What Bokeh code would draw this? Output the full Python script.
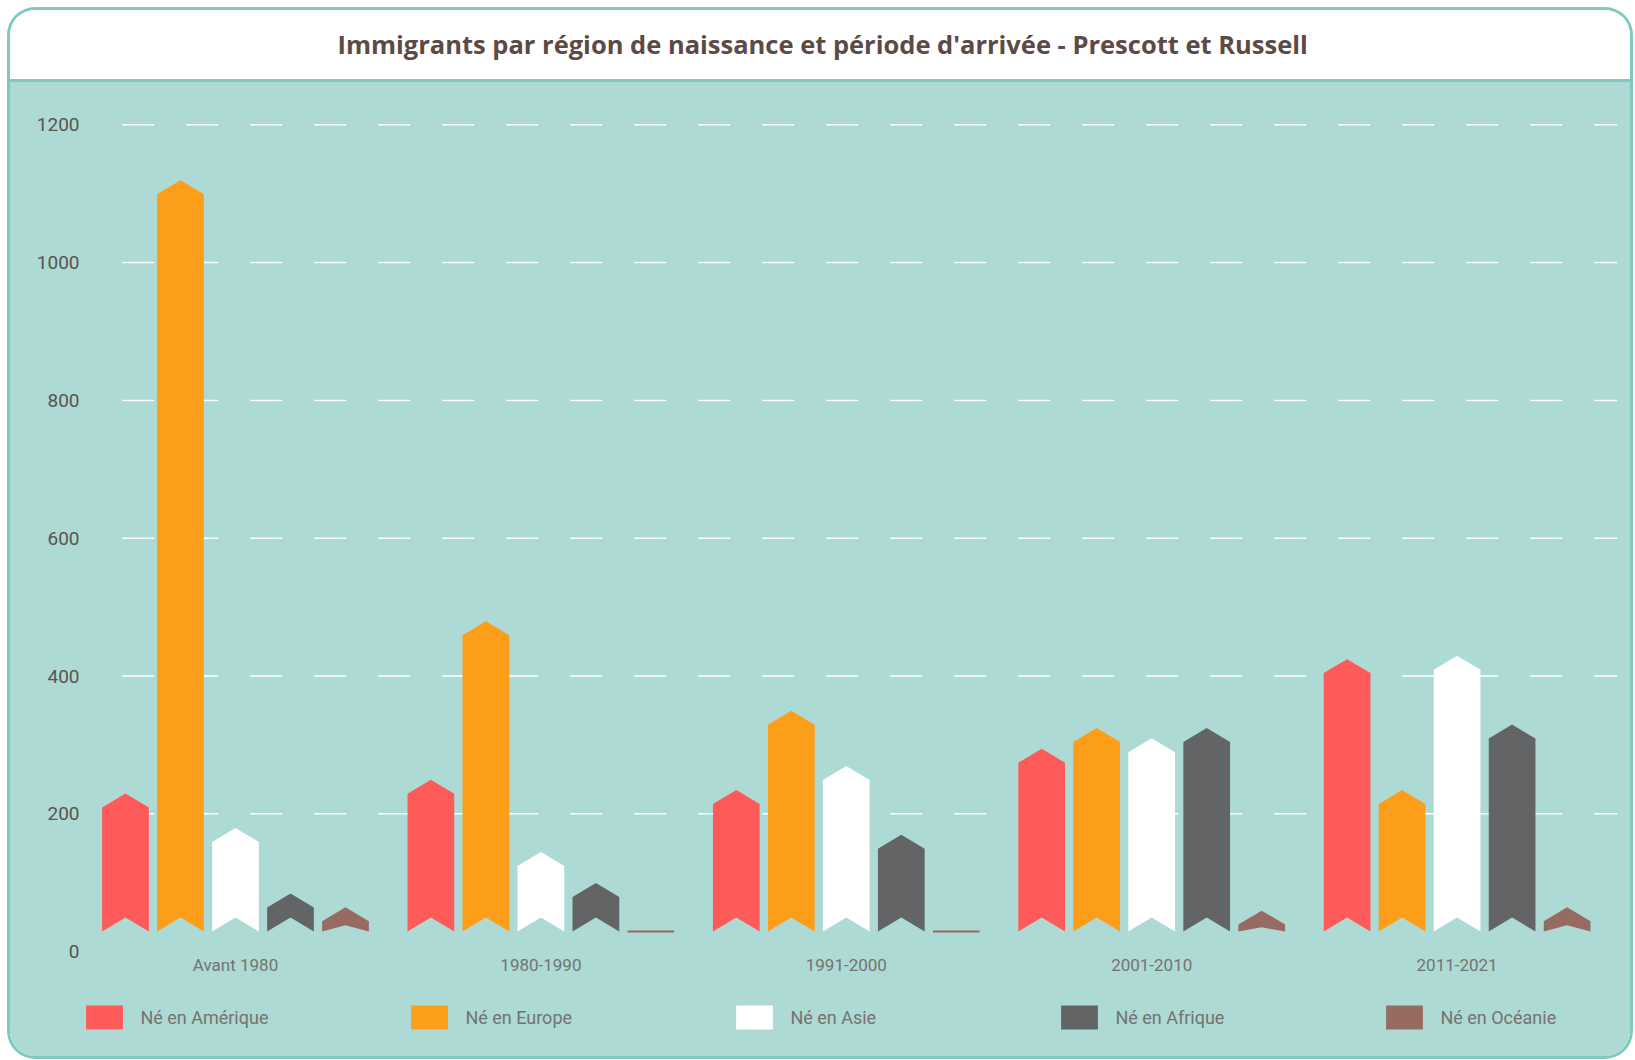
from bokeh.plotting import figure
from bokeh.models import Range1d, FixedTicker, Legend, LegendItem, ColumnDataSource
from bokeh.embed import file_html
from bokeh.resources import INLINE

# ---------------- data ----------------
periods = ["Avant 1980", "1980-1990", "1991-2000", "2001-2010", "2011-2021"]
regions = ["Né en Amérique", "Né en Europe", "Né en Asie", "Né en Afrique", "Né en Océanie"]
ne_amerique = [180, 200, 185, 245, 375]
ne_europe = [1070, 430, 300, 275, 185]
ne_asie = [130, 95, 220, 260, 380]
ne_afrique = [35, 50, 120, 275, 280]
ne_oceanie = [15, 0, 0, 10, 15]
y_ticks = [0, 200, 400, 600, 800, 1000, 1200]

series = [ne_amerique, ne_europe, ne_asie, ne_afrique, ne_oceanie]
colors = ["#ff5a5a", "#fd9e1b", "#ffffff", "#636466", "#976a62"]

# ---------------- style constants ----------------
BASE = 29.2      # ribbons start slightly above the zero line (data units)
TIP = 20.3       # height of the pointed top
NOTCH = 20.3     # depth of the notch at the bottom
WIDTH = 0.153    # bar width (category units)
PITCH = 0.1801   # distance between bars of one group
GRID_X0 = -0.371 # where the dashed grid lines begin (category units)
X_START, X_END = -0.5075, 4.5252
Y_START, Y_END = -137.7, 1273.0

FONT = "Roboto"


def ribbon(xc, v):
    x0, x1 = xc - WIDTH / 2, xc + WIDTH / 2
    top = BASE + v
    if v <= 0:
        return [x0, x1], [BASE, BASE]
    n = min(NOTCH, 0.6 * v)
    return [x0, x0, xc, x1, x1, xc], [BASE, top, top + TIP, top, BASE, BASE + n]


p = figure(
    width=1620, height=1046,
    x_range=Range1d(X_START, X_END), y_range=Range1d(Y_START, Y_END),
    output_backend="svg", toolbar_location=None,
    min_border_left=70, min_border_right=13, min_border_top=64, min_border_bottom=10,
)
p.styles = {
    "margin": "10px 0 0 10px",
    "border-radius": "25px",
    "overflow": "hidden",
    "box-shadow": "0 0 0 3px #80c9bf",
    "background": "linear-gradient(to bottom, #ffffff 0px, #ffffff 69px, #80c9bf 69px, #80c9bf 72px, #addad4 72px, #addad4 100%)",
}
p.border_fill_alpha = 0
p.background_fill_alpha = 0
p.outline_line_color = None

# title
p.title.text = "Immigrants par région de naissance et période d'arrivée - Prescott et Russell"
p.title.align = "left"
p.title.offset = 257
p.title.standoff = 27
p.title.text_font = "Open Sans"
p.title.text_font_style = "bold"
p.title.text_font_size = "25.5px"
p.title.text_color = "#5b4a45"

# dashed grid lines (from the tick values)
grid_y = y_ticks[1:]
p.segment(x0=[GRID_X0] * len(grid_y), x1=[X_END] * len(grid_y), y0=grid_y, y1=grid_y,
          line_color="#ffffff", line_width=1.5, line_dash="32 32")

# bars
renderers = []
for i, (vals, col) in enumerate(zip(series, colors)):
    xs, ys, la = [], [], []
    for g, v in enumerate(vals):
        xc = g + (i - 2) * PITCH
        bx, by = ribbon(xc, v)
        xs.append(bx)
        ys.append(by)
        la.append(1.0 if v <= 0 else 0.0)
    src = ColumnDataSource(dict(xs=xs, ys=ys, la=la))
    r = p.patches("xs", "ys", source=src, fill_color=col, line_color=col,
                  line_alpha="la", line_width=2)
    renderers.append(r)

# axes
p.yaxis.ticker = FixedTicker(ticks=y_ticks)
p.yaxis.axis_line_color = None
p.yaxis.major_tick_line_color = None
p.yaxis.minor_tick_line_color = None
p.yaxis.major_tick_out = 0
p.yaxis.major_tick_in = 0
p.yaxis.major_label_standoff = 1
p.yaxis.major_label_text_font = FONT
p.yaxis.major_label_text_font_size = "19px"
p.yaxis.major_label_text_color = "#5b5352"

p.xaxis.fixed_location = 0
p.xaxis.ticker = FixedTicker(ticks=list(range(len(periods))))
p.xaxis.major_label_overrides = {i: name for i, name in enumerate(periods)}
p.xaxis.axis_line_color = None
p.xaxis.major_tick_line_color = None
p.xaxis.minor_tick_line_color = None
p.xaxis.major_tick_out = 0
p.xaxis.major_tick_in = 0
p.xaxis.major_label_standoff = 3
p.xaxis.major_label_text_font = FONT
p.xaxis.major_label_text_font_size = "17px"
p.xaxis.major_label_text_color = "#737373"

p.xgrid.grid_line_color = None
p.ygrid.grid_line_color = None

# legend
legend = Legend(
    items=[LegendItem(label=name, renderers=[r]) for name, r in zip(regions, renderers)],
    orientation="horizontal", location=(1.4, 14),
    glyph_width=46, glyph_height=30, label_standoff=13, label_width=266, spacing=0,
    padding=0, margin=0, background_fill_alpha=0, border_line_color=None,
    label_text_font=FONT, label_text_font_size="18px", label_text_color="#737373",
)
p.add_layout(legend, "center")

open("out.html", "w").write(file_html(p, INLINE))
